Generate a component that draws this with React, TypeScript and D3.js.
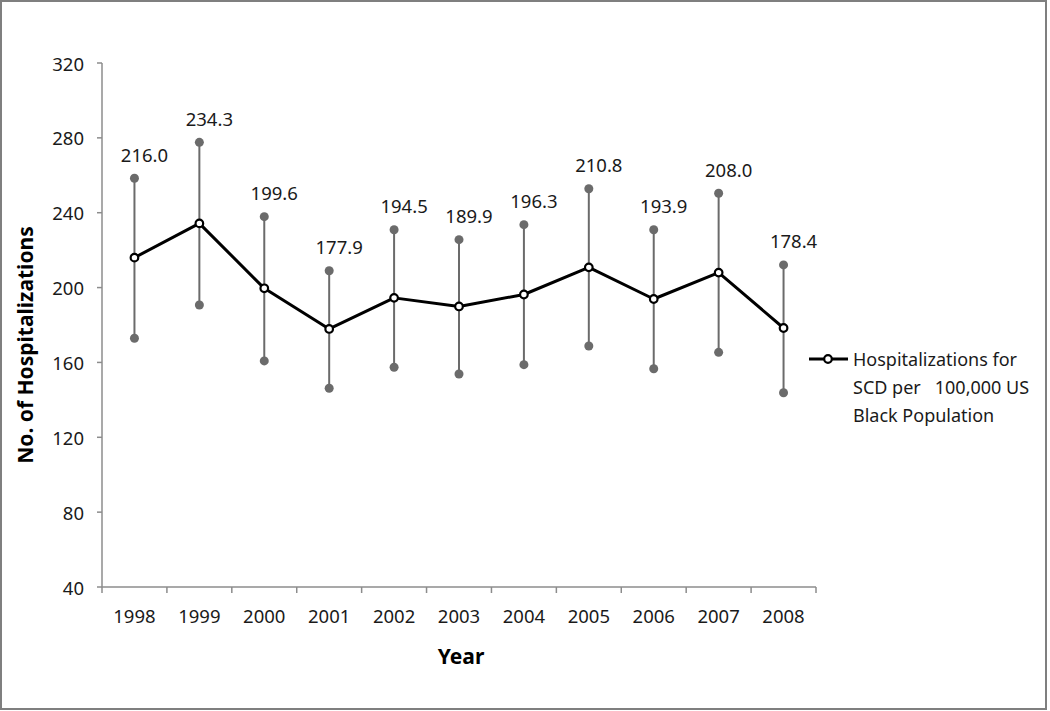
import React from 'react';
import * as d3 from 'd3';

const years = ['1998', '1999', '2000', '2001', '2002', '2003', '2004', '2005', '2006', '2007', '2008'];
const rates = [216.0, 234.3, 199.6, 177.9, 194.5, 189.9, 196.3, 210.8, 193.9, 208.0, 178.4];
const upperCI = [258.4, 277.6, 237.9, 209.0, 230.9, 225.6, 233.6, 252.8, 230.9, 250.4, 212.1];
const lowerCI = [172.9, 190.7, 160.8, 146.2, 157.4, 153.8, 158.8, 168.8, 156.6, 165.4, 143.8];
const yTicks = [40, 80, 120, 160, 200, 240, 280, 320];
const legendLines = ['Hospitalizations for', 'SCD per   100,000 US', 'Black Population'];

const FONT = '"Noto Sans", "Open Sans", sans-serif';

export default function App() {
  const W = 1050, H = 711;
  const x = d3.scaleBand<string>().domain(years).range([102, 816]).padding(0);
  const y = d3.scaleLinear().domain([40, 320]).range([587, 63]);
  const cx = (yr: string) => (x(yr) as number) + x.bandwidth() / 2;

  const line = d3.line<number>()
    .x((_, i) => cx(years[i]))
    .y((d) => y(d));

  const axisColor = '#8c8c8c';
  const errColor = '#6b6b6b';
  const boundaries = years.map((yr) => x(yr) as number).concat([816]);

  return (
    <svg width={W} height={H} style={{ position: 'absolute', left: 0, top: 0, background: '#fff' }} fontFamily={FONT}>
      <rect x={1} y={1} width={1045} height={708} fill="#fff" stroke="#7f7f7f" strokeWidth={2} />

      {/* Y axis */}
      <line x1={102} x2={102} y1={63} y2={587} stroke={axisColor} strokeWidth={1.5} />
      {yTicks.map((t) => (
        <g key={t}>
          <line x1={97} x2={102} y1={y(t)} y2={y(t)} stroke={axisColor} strokeWidth={1.5} />
          <text x={84} y={y(t)} textAnchor="end" dominantBaseline="central" fontSize={18.5} fill="#1a1a1a">{t}</text>
        </g>
      ))}

      {/* X axis */}
      <line x1={102} x2={816} y1={587} y2={587} stroke={axisColor} strokeWidth={1.5} />
      {boundaries.map((b, i) => (
        <line key={i} x1={b} x2={b} y1={587} y2={593} stroke={axisColor} strokeWidth={1.5} />
      ))}
      {years.map((yr) => (
        <text key={yr} x={cx(yr)} y={615} textAnchor="middle" dominantBaseline="central" fontSize={18.5} fill="#1a1a1a">{yr}</text>
      ))}

      {/* Axis titles */}
      <text x={461} y={664} textAnchor="middle" fontSize={21} fontWeight="bold" fill="#000">Year</text>
      <text transform={`translate(33,345) rotate(-90)`} textAnchor="middle" fontSize={21} fontWeight="bold" fill="#000">No. of Hospitalizations</text>

      {/* Error bars */}
      {years.map((yr, i) => (
        <g key={yr}>
          <line x1={cx(yr)} x2={cx(yr)} y1={y(upperCI[i])} y2={y(lowerCI[i])} stroke={errColor} strokeWidth={2} />
          <circle cx={cx(yr)} cy={y(upperCI[i])} r={4.5} fill={errColor} />
          <circle cx={cx(yr)} cy={y(lowerCI[i])} r={4.5} fill={errColor} />
        </g>
      ))}

      {/* Main line */}
      <path d={line(rates) || ''} fill="none" stroke="#000" strokeWidth={3} strokeLinejoin="round" />
      {years.map((yr, i) => (
        <circle key={yr} cx={cx(yr)} cy={y(rates[i])} r={3.8} fill="#fff" stroke="#000" strokeWidth={2.2} />
      ))}

      {/* Data labels */}
      {years.map((yr, i) => (
        <text key={yr} x={cx(yr) + 10} y={y(upperCI[i]) - 24} textAnchor="middle" dominantBaseline="central" fontSize={18.5} fill="#1a1a1a">
          {rates[i].toFixed(1)}
        </text>
      ))}

      {/* Legend */}
      <line x1={809} x2={848} y1={359} y2={359} stroke="#000" strokeWidth={3} />
      <circle cx={828} cy={359} r={3.8} fill="#fff" stroke="#000" strokeWidth={2.2} />
      {legendLines.map((t, i) => (
        <text key={i} x={853} y={366 + i * 28} fontSize={18} fill="#1a1a1a" style={{ whiteSpace: 'pre' }} xmlSpace="preserve">{t}</text>
      ))}
    </svg>
  );
}
